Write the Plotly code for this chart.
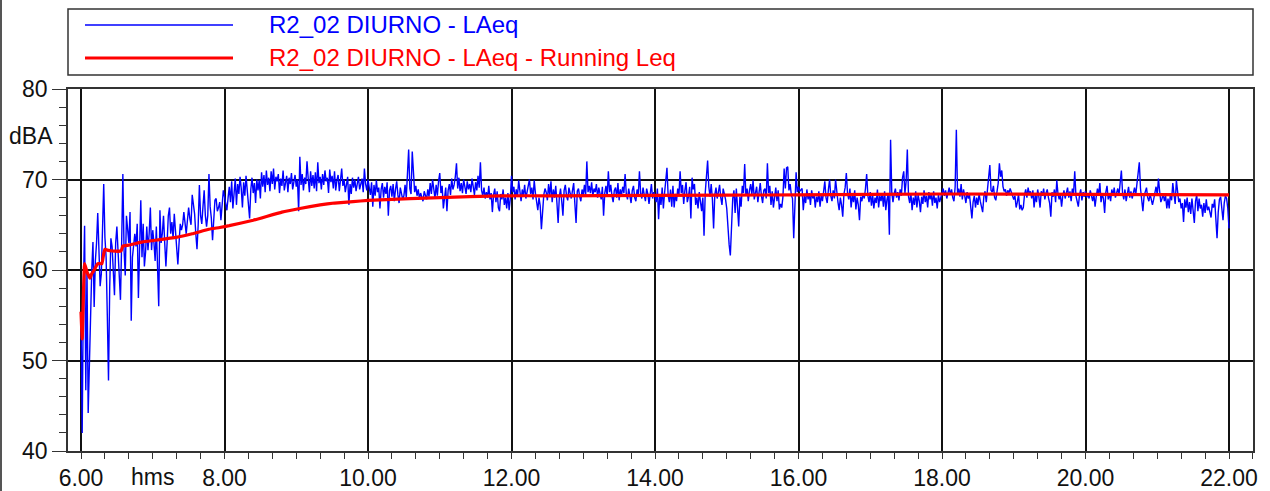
import plotly.graph_objects as go

# ---------------- data ----------------
series_blue_name = "R2_02 DIURNO - LAeq"
series_red_name = "R2_02 DIURNO - LAeq - Running Leq"

# 1-minute LAeq values from 6:00 (minute 0) to 22:00 (minute 960)
laeq = [
    55, 42, 58, 64.9, 46.7, 60, 44.2, 50, 53.9, 60,
    63.1, 55.9, 61, 63, 66.3, 61, 58.2, 59.6, 64, 69.5,
    63.6, 61.4, 55, 47.8, 58, 63.5, 62.6, 60, 57.2, 63,
    64.8, 62, 59.4, 56.7, 63, 70.6, 62.2, 59.4, 66, 64.2,
    63, 66.4, 54.4, 61.4, 63, 64, 62.6, 65.1, 56.9, 62,
    67.7, 61.4, 65.1, 60.4, 62, 64.8, 62.2, 64, 66.9, 62.2,
    64.4, 63, 61, 64.8, 60, 56, 66.6, 63, 64, 66,
    63, 60.4, 63, 66, 66.9, 64, 65.3, 63.5, 66.2, 64.6,
    62, 60.6, 63, 65.1, 64.4, 65, 66.4, 65.3, 64, 65.5,
    66.9, 65.7, 65, 68.3, 67, 66.2, 64, 62.3, 65, 69.4,
    66, 65.1, 67, 68.8, 66, 64.8, 66, 70.6, 67, 65.7,
    63.3, 66, 67.7, 67.9, 66.5, 66.9, 67.5, 65.5, 67, 68.8,
    68.1, 67.2, 66.6, 68, 69.2,
    67.5, 69.8, 66.8, 68.9, 70.1, 67.2, 69.5, 68.4, 70.3, 69.0,
    66.9, 69.7, 68.2, 70.4, 69.1, 67.8, 65.7, 68.9, 70.2, 68.5,
    69.6, 67.4, 70.0, 68.8, 69.9, 67.9, 70.8, 69.2, 70.5, 68.6,
    71.0, 69.4, 70.2, 68.7, 70.9, 69.5, 71.2, 68.9, 70.3, 69.8,
    70.6, 68.5, 70.1, 69.3, 71.0, 68.8, 69.7, 70.4, 68.6, 70.2,
    69.5, 70.7, 68.9, 69.8, 70.5, 69.2, 70.0, 66.5, 72.5, 69.4,
    70.6, 68.8, 70.2, 69.5, 72.0, 70.1, 68.6, 70.9, 69.3, 70.5,
    69.0, 70.8, 68.7, 71.9, 69.6, 70.3, 68.9, 70.6, 69.4, 71.0,
    69.8, 70.2, 68.5, 71.1, 69.7, 70.4, 69.0, 70.9, 68.8, 69.9,
    70.5, 68.7, 70.1, 71.2, 69.3, 70.0, 68.6, 69.8, 70.3, 67.2,
    69.5, 68.4, 70.2, 69.1, 70.0, 68.7, 69.6, 70.3, 68.9, 69.4,
    70.1, 68.6, 71.2, 69.5, 68.8, 70.0, 69.2, 68.3, 69.7, 67.0,
    69.4, 68.2, 69.9, 68.6, 69.1, 66.8, 68.9, 69.6, 68.0, 69.2,
    68.4, 69.7, 66.0, 68.8, 69.3, 68.1, 69.5, 67.6, 68.9, 69.8,
    68.3, 67.4, 69.1, 68.6, 67.8, 68.2, 69.4, 68.0, 71.5, 73.3,
    69.0, 68.4, 73.1, 70.2, 68.6, 69.3, 68.2, 68.9, 67.9, 68.5,
    68.0, 67.6, 68.7, 68.2, 67.8, 68.9, 68.1, 69.6, 68.4, 70.0,
    68.6, 67.9, 69.4, 68.2, 69.8, 70.7, 68.5, 69.3, 66.8, 68.4,
    69.1, 66.5, 68.8, 69.5, 68.3, 70.1, 68.9, 69.4, 70.3, 71.8,
    69.0, 70.2, 68.7, 69.6, 68.5, 70.0, 69.2, 68.4, 69.8, 68.9,
    69.5, 68.6, 70.1, 69.0, 68.3, 69.7, 68.8, 70.4, 69.1, 71.9,
    68.8, 68.2, 69.1, 67.9, 68.6, 68.0, 69.3, 67.8, 68.5, 66.4,
    68.3, 69.0, 67.5, 68.7, 66.9, 66.5, 68.4, 67.8, 68.9, 67.2,
    68.0, 66.8, 68.5, 66.6, 67.9, 70.4, 68.6, 69.2, 67.8, 68.9,
    68.1, 69.9, 68.7, 67.6, 68.9, 68.2, 69.4, 67.9, 68.6, 69.2,
    70.0, 68.4, 69.1, 67.8, 69.9, 68.5, 67.2, 66.6, 68.0, 67.1,
    64.5, 66.8, 68.3, 69.0, 68.6, 67.7, 69.5, 68.2, 69.8, 67.5,
    68.9, 68.0, 69.3, 67.4, 65.2, 68.1, 69.0, 67.6, 66.0, 68.8,
    69.4, 68.2, 67.7, 69.1, 68.5, 67.9, 68.8, 69.6, 67.3, 65.2,
    68.7, 69.0, 68.1, 67.6, 68.9, 68.3, 69.4, 68.2, 72.0, 68.6,
    69.3, 68.5, 69.7, 68.2, 69.0, 68.6, 69.5, 68.0, 69.1, 68.4,
    67.8, 69.2, 66.0, 68.5, 69.3, 68.1, 70.9, 68.6, 69.4, 68.2,
    67.5, 68.8, 69.1, 68.0, 69.6, 67.7, 68.9, 68.3, 69.2, 68.5,
    70.6, 68.4, 67.8, 69.0, 68.2, 67.4, 68.8, 69.3, 68.0, 67.6,
    68.9, 68.2, 70.9, 68.5, 67.9, 69.1, 68.3, 67.6, 69.0, 68.4,
    67.3, 68.7, 69.5, 67.9, 68.6,
    68.1, 67.5, 69.0, 65.6, 68.4, 67.2, 69.1, 66.8, 68.5, 69.6,
    71.3, 68.2, 67.5, 68.9, 67.0, 69.3, 66.9, 68.4, 67.6, 69.0,
    68.2, 70.9, 68.5, 69.4, 67.3, 68.8, 69.7, 67.5, 68.1, 69.2,
    65.7, 70.2, 68.9, 69.5, 67.2, 68.0, 66.8, 68.6, 67.4, 66.5,
    68.0, 63.8, 68.5, 70.0, 72.1, 69.2, 68.1, 69.5, 67.8, 64.6,
    68.3, 69.1, 67.9, 68.6, 69.4, 68.0, 67.2, 69.0, 68.5, 67.8,
    66.8, 64.5, 62.8, 61.6, 65.2, 67.9, 68.8, 66.3, 69.0, 67.4,
    64.8, 68.1, 67.0, 69.3, 68.5, 71.7, 68.2, 69.0, 67.6, 68.8,
    69.5, 68.3, 69.9, 67.8, 68.6, 69.2, 67.5, 68.9, 69.6, 68.2,
    67.4, 68.8, 69.0, 67.9, 71.8, 68.5, 69.3, 67.2, 68.7, 66.9,
    68.4, 69.1, 67.6, 68.8, 66.7, 67.3, 66.9, 68.1, 71.2, 69.0,
    71.3, 71.4, 68.8, 69.5, 68.3, 67.9, 63.5, 68.4, 70.8, 68.6,
    69.2, 68.7, 68.9, 69.0, 66.6, 68.2, 67.4, 68.9, 67.8, 68.5,
    67.2, 68.8, 67.9, 68.4, 66.9, 68.1, 67.5, 68.7, 67.0, 68.3,
    67.6, 68.6, 69.8, 68.0, 67.4, 68.9, 70.0, 68.2, 67.6, 68.8,
    67.9, 70.0, 68.3, 67.5, 66.6, 68.0, 67.2, 65.9, 68.4, 69.1,
    70.7, 68.5, 67.8, 69.0, 66.9, 68.3, 67.5, 68.8, 66.7, 68.0,
    67.2, 65.5, 68.1, 67.6, 68.5, 67.9, 69.0, 70.6, 68.2, 67.5,
    68.6, 67.1, 68.3, 66.8, 68.0, 67.4, 68.9, 66.9, 68.2, 67.6,
    68.5, 67.0, 68.7, 66.6, 67.8, 68.4, 63.9, 74.4, 68.6, 67.5,
    68.4, 69.0, 68.0, 68.6, 67.7, 68.9, 68.2, 70.2, 70.9, 68.5,
    69.8, 73.3, 68.1, 67.4, 68.5, 66.6, 68.0, 67.2, 68.7, 66.9,
    68.3, 67.6, 66.4, 68.1, 67.3, 68.8, 67.5, 68.2, 66.9, 68.6,
    67.8, 68.4, 67.1, 68.7, 67.4, 68.0, 66.8, 68.3, 67.5, 68.1,
    68.6, 69.0, 68.2, 68.8, 67.9, 68.5, 69.1, 68.3, 68.9, 68.0,
    67.6, 69.2, 75.5, 68.4, 69.0, 68.1, 69.5, 67.8, 68.9, 68.2,
    67.4, 68.6, 67.9, 68.3, 67.0, 65.7, 67.5, 68.2, 66.9, 68.0,
    67.2, 68.4, 67.6, 66.9, 66.4, 68.1, 68.7, 67.5, 69.2, 70.2,
    71.6, 68.8, 68.6, 69.3, 68.0, 67.7, 68.5, 69.6, 71.8, 70.3,
    71.0, 69.2, 68.7, 68.9, 68.2, 68.8, 68.5, 69.0, 68.6, 68.3,
    67.8, 68.2, 66.9, 67.5, 68.4, 66.7, 67.2, 66.6, 66.9, 68.3,
    68.9, 68.0, 69.1, 68.4, 68.7, 67.9, 68.8, 66.9, 68.3, 67.5,
    68.9, 68.1, 66.9, 68.7, 68.2, 69.0, 67.8, 68.5, 68.9, 68.0,
    67.4, 65.9, 68.6, 68.1, 68.9, 67.5, 69.9, 68.4, 67.8, 68.3,
    67.0, 68.2, 68.8, 67.9, 68.6, 69.1, 68.0, 68.7, 67.6, 69.0,
    68.4, 70.9, 68.2, 67.5, 67.0, 68.3, 68.9, 67.7, 68.6, 68.1,
    68.7, 68.0, 68.5, 67.9, 68.8, 68.2, 67.6, 68.4, 67.0, 68.1,
    69.0, 68.3, 69.6, 67.5, 68.4, 67.9, 66.3, 68.6, 69.3, 67.8,
    68.5, 67.6, 68.9, 68.2, 69.1, 68.0, 68.6, 69.0, 68.3, 70.0,
    71.0, 68.5, 67.8, 68.9, 67.6, 68.4, 69.2, 68.0, 68.7, 67.9,
    68.6, 69.1, 68.3, 69.5, 70.3, 71.9, 69.0, 67.4, 66.5, 68.2,
    68.8, 69.1, 68.0, 67.6, 68.4, 67.9, 67.2, 67.8, 68.6, 69.2,
    68.3, 70.1, 68.7, 67.5, 67.9, 68.4, 67.6, 68.2, 66.8, 67.9,
    66.8, 68.5, 67.7, 69.6, 68.4, 67.3, 69.9, 68.2, 67.5, 67.9,
    66.8, 67.4, 65.3, 67.8, 66.9, 68.0, 66.4, 67.5, 66.2, 67.9,
    66.7, 65.2, 67.6, 68.3, 66.5, 67.9, 66.8, 67.2, 65.9, 67.4,
    66.3, 67.8, 66.6, 67.0, 66.4, 65.8, 67.3, 66.9, 67.8, 66.1,
    63.5, 66.4, 67.8, 68.1, 66.6, 65.5, 67.4, 68.2, 67.9, 66.8,
    64.6,
]
laeq_minutes = list(range(len(laeq)))

# Running Leq, read at selected minutes after 6:00
running_minutes = [0, 1, 3, 5, 7.5, 9, 11, 14, 17.5, 19, 20, 22, 26, 33.5, 35, 40,
                   51.5, 60, 79.5, 93, 107, 116, 124, 144, 168, 183, 200, 212,
                   227.5, 240, 250, 300, 350, 392, 480, 600, 720, 840, 960]
running_leq = [55.4, 52.4, 60.7, 59.8, 59.1, 59.6, 60.0, 60.7, 60.7, 61.8, 62.3, 62.2,
               62.1, 62.1, 62.65, 62.75, 63.1, 63.25, 63.6, 64.0, 64.5, 64.7, 64.9,
               65.5, 66.4, 66.8, 67.2, 67.4, 67.55, 67.7, 67.75, 68.0, 68.2, 68.2,
               68.25, 68.3, 68.4, 68.35, 68.3]

x_tick_hours = [6, 8, 10, 12, 14, 16, 18, 20, 22]
x_tick_labels = ["6.00", "8.00", "10.00", "12.00", "14.00", "16.00", "18.00", "20.00", "22.00"]
y_tick_vals = [40, 50, 60, 70, 80]
y_tick_labels = ["40", "50", "60", "70", "80"]

# ---------------- figure ----------------
START_HOUR = 6
blue_x = [START_HOUR + m / 60 for m in laeq_minutes]
red_x = [START_HOUR + m / 60 for m in running_minutes]

W, H = 1270, 491
ML, MR, MT, MB = 68, 17, 89, 40
PW, PH = W - ML - MR, H - MT - MB


def px(x):
    return (x - ML) / PW


def py(y):
    return (H - MB - y) / PH


FONT = "Liberation Sans, Arial, Helvetica, sans-serif"

fig = go.Figure()
fig.add_trace(go.Scatter(x=blue_x, y=laeq, mode="lines", name=series_blue_name,
                         line=dict(color="#0000ff", width=1.4), showlegend=False))
fig.add_trace(go.Scatter(x=red_x, y=running_leq, mode="lines", name=series_red_name,
                         line=dict(color="#ff0000", width=3.2, shape="spline", smoothing=0.3),
                         showlegend=False))

GRID = "#111111"
fig.update_xaxes(
    range=[5.8188, 22.3345], automargin=False,
    tickmode="array", tickvals=x_tick_hours, ticktext=x_tick_labels,
    ticks="outside", ticklen=6, tickwidth=1.2, tickcolor="#333",
    showgrid=True, gridcolor=GRID, gridwidth=1.5,
    minor=dict(dtick=1 / 3, tick0=6, ticks="outside", ticklen=6, tickwidth=1.2,
               tickcolor="#333", showgrid=False),
    showline=True, linecolor="#333", linewidth=1.5, mirror=True,
    zeroline=False,
    tickfont=dict(family=FONT, size=23, color="#111"),
)
fig.update_yaxes(
    range=[40, 80], automargin=False,
    tickmode="array", tickvals=y_tick_vals, ticktext=y_tick_labels,
    ticks="outside", ticklen=14, tickwidth=1.2, tickcolor="#333",
    showgrid=True, gridcolor=GRID, gridwidth=1.5,
    minor=dict(dtick=2, tick0=40, ticks="outside", ticklen=7, tickwidth=1.2,
               tickcolor="#333", showgrid=False),
    showline=True, linecolor="#333", linewidth=1.5, mirror=True,
    zeroline=False,
    tickfont=dict(family=FONT, size=23, color="#111"),
)

shapes = []
# legend box
shapes.append(dict(type="rect", xref="paper", yref="paper",
                   x0=px(68), x1=px(1253), y0=py(75), y1=py(9),
                   line=dict(color="#333", width=1.5), fillcolor="white", layer="above"))
shapes.append(dict(type="line", xref="paper", yref="paper",
                   x0=px(85), x1=px(233), y0=py(25), y1=py(25),
                   line=dict(color="#0000ff", width=1.5)))
shapes.append(dict(type="line", xref="paper", yref="paper",
                   x0=px(85), x1=px(233), y0=py(58), y1=py(58),
                   line=dict(color="#ff0000", width=3.2)))
# image frame left edge
shapes.append(dict(type="line", xref="paper", yref="paper",
                   x0=px(1), x1=px(1), y0=py(491), y1=py(0),
                   line=dict(color="#555", width=2)))

annotations = [
    dict(text=series_blue_name, xref="paper", yref="paper", x=px(267), y=py(24),
         xanchor="left", yanchor="middle", showarrow=False,
         font=dict(family=FONT, size=24, color="#0000ff")),
    dict(text=series_red_name, xref="paper", yref="paper", x=px(267), y=py(57),
         xanchor="left", yanchor="middle", showarrow=False,
         font=dict(family=FONT, size=24, color="#ff0000")),
    dict(text="dBA", xref="paper", yref="paper", x=px(30.5), y=py(135.5),
         xanchor="center", yanchor="middle", showarrow=False,
         font=dict(family=FONT, size=23, color="#111")),
    dict(text="hms", xref="paper", yref="paper", x=px(152), y=py(477),
         xanchor="center", yanchor="middle", showarrow=False,
         font=dict(family=FONT, size=23, color="#111")),
]

fig.update_layout(
    width=W, height=H,
    margin=dict(l=ML, r=MR, t=MT, b=MB, pad=0, autoexpand=False),
    paper_bgcolor="white", plot_bgcolor="white",
    shapes=shapes, annotations=annotations,
    showlegend=False,
)

fig.write_html(
    "out.html",
    config={"displayModeBar": False},
    post_script="document.body.style.margin='0';document.body.style.overflow='hidden';",
)
